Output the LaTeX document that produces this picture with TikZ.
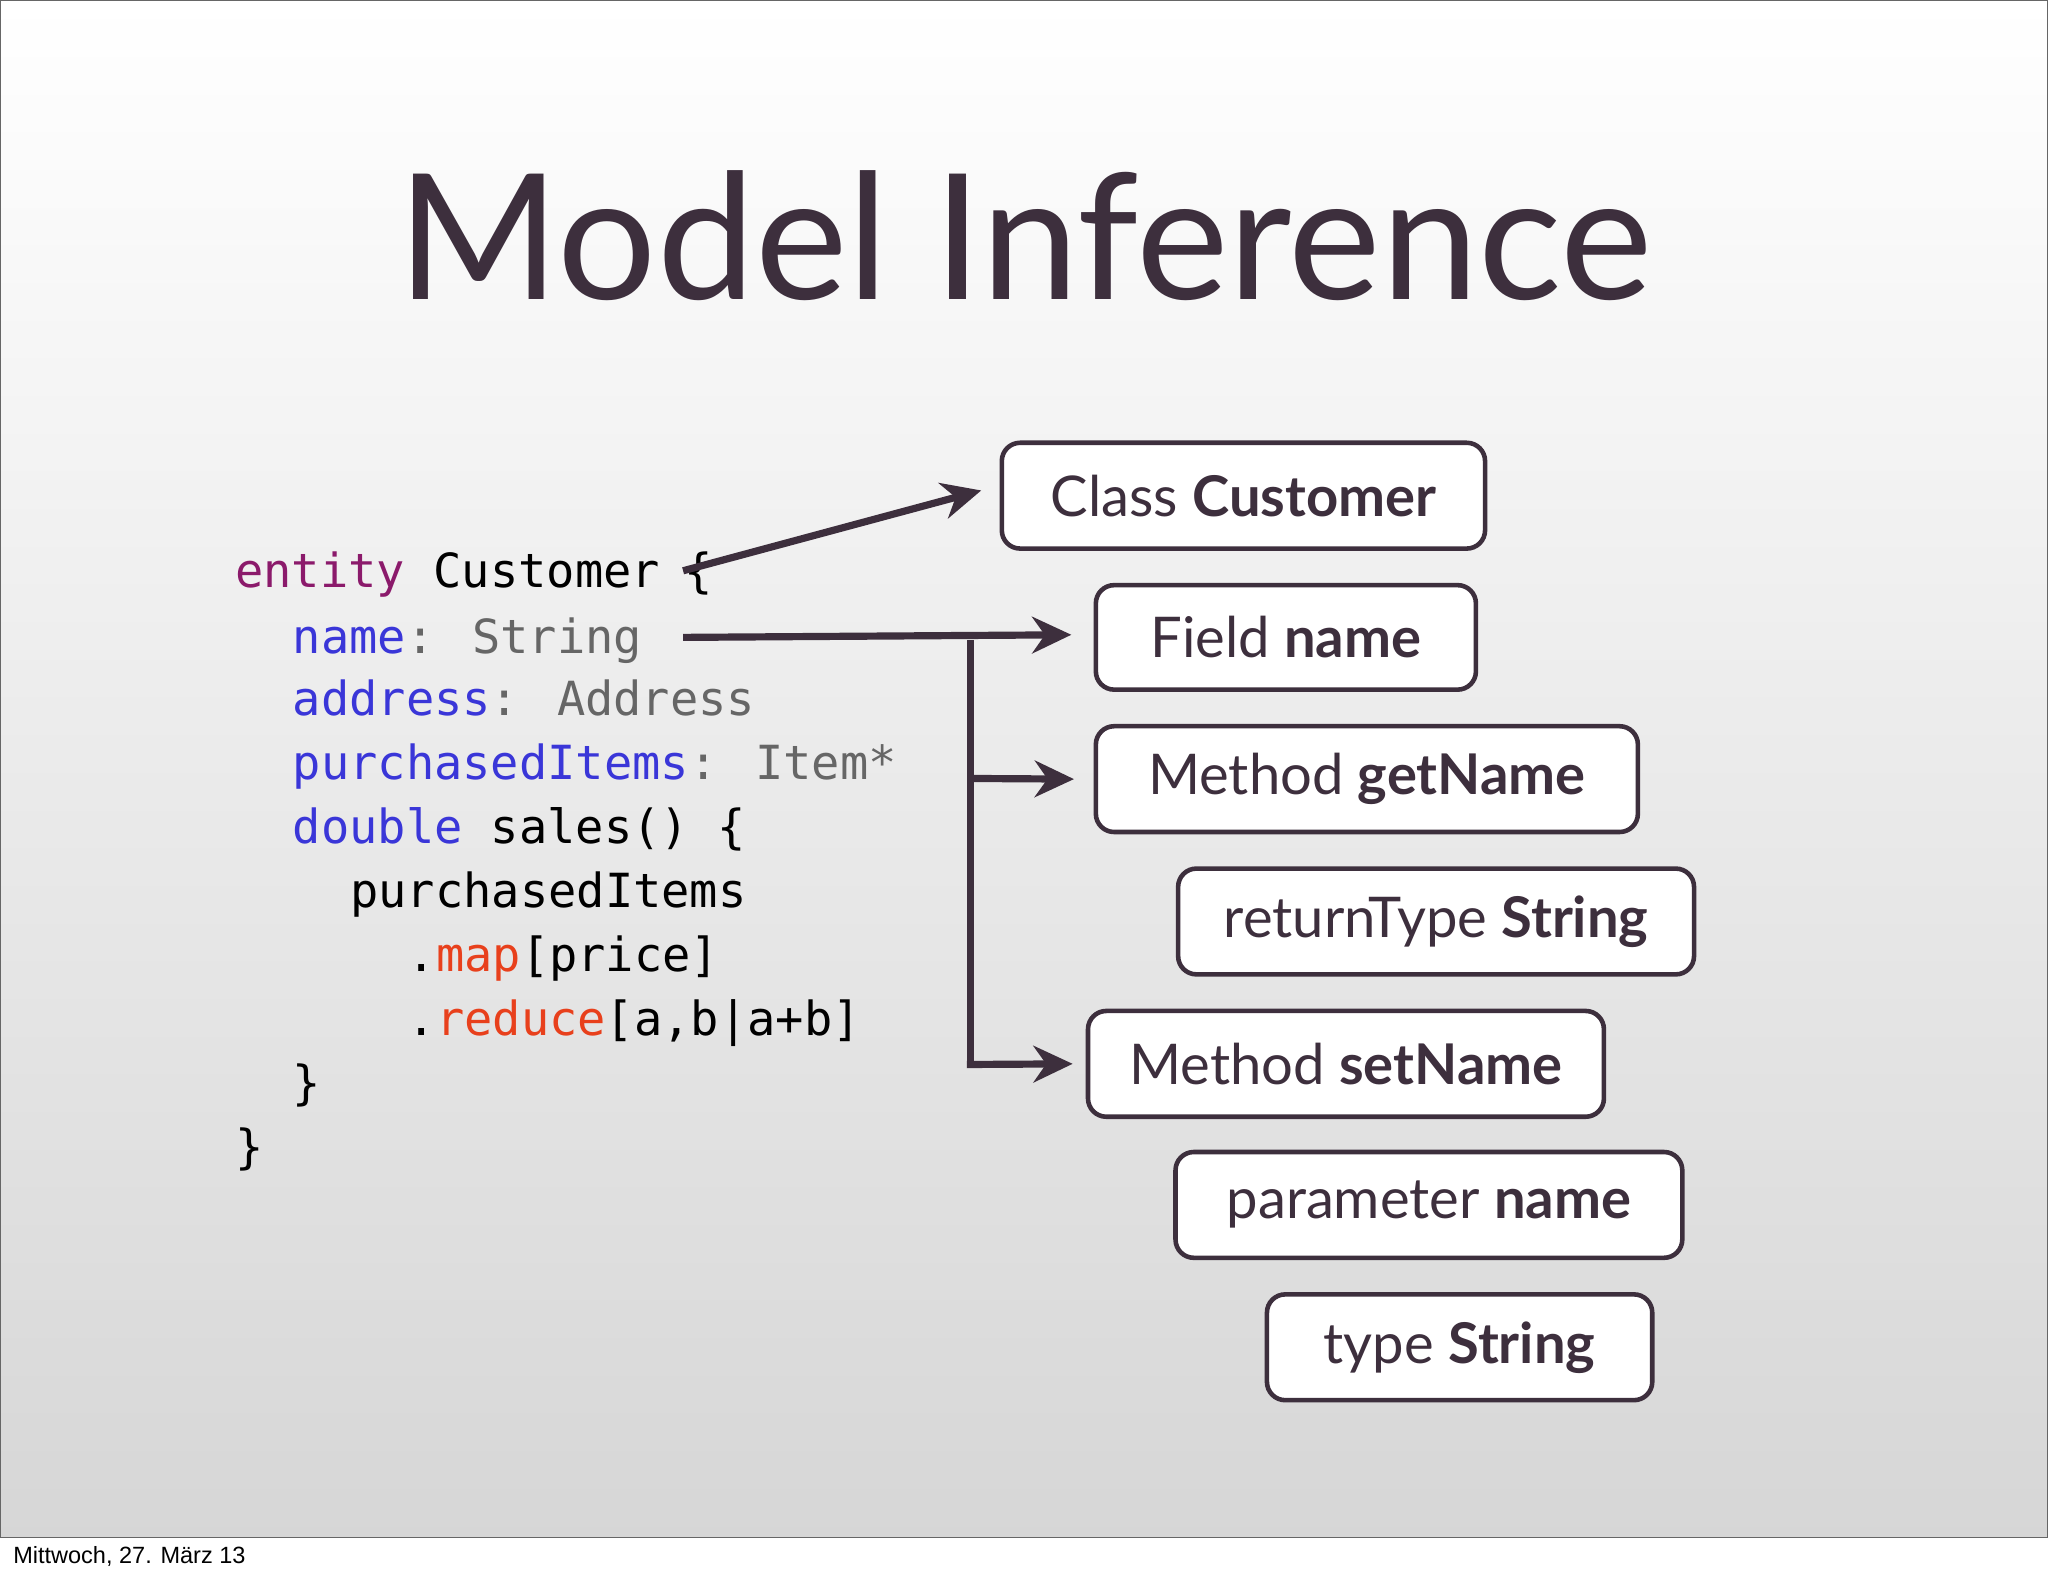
\documentclass[tikz,border=0pt]{standalone}
\usepackage{fontspec}
\setmainfont{Lato}
\newfontfamily\codefont{DejaVu Sans Mono}
\newfontfamily\footfont{Liberation Sans}
\usetikzlibrary{arrows.meta}
\definecolor{ink}{HTML}{3D2F3D}
\definecolor{kw}{HTML}{8B1A6B}
\definecolor{fld}{HTML}{3A36D8}
\definecolor{typ}{HTML}{666666}
\definecolor{ops}{HTML}{E8401C}
\tikzset{
 box/.style={draw=ink,line width=3.5pt,rounded corners=14pt,fill=white,inner sep=0pt,
   font=\fontsize{43}{50}\selectfont,text=ink},
 code/.style={anchor=base west,inner sep=0pt,font=\codefont\fontsize{36}{40}\selectfont},
 conn/.style={draw=ink,line width=5.5pt,-{Stealth[length=30pt,width=28pt]}},
}
\begin{document}
\begin{tikzpicture}[x=1pt,y=-1pt]
\useasboundingbox (0,0) rectangle (1568,1207);
\shade[top color=white,bottom color=black!16] (0,0) rectangle (1568,1177);
\fill[white] (0,1177) rectangle (1568,1207);
\draw[line width=1pt,black!70] (0,1177) -- (1568,1177);
\draw[line width=1pt,black!60] (0.5,0.5) rectangle (1567.5,1177);
\node[anchor=base west,inner sep=0pt,font=\footfont\fontsize{18}{20}\selectfont] (foot) at (10,1197) {Mittwoch, 27. März 13};
\node[anchor=base,inner sep=0pt,text=ink,font=\fontsize{134}{150}\selectfont] (title) at (785,229) {Model Inference};
% code
\node[code] (l1) at (180,450) {{\color{kw}entity} Customer};
\node[code] (l1b) at (524,450) {\{};
\node[code] (l2) at (224,500) {{\color{fld}name}{\color{typ}: String}};
\node[code] (l3) at (224,548) {{\color{fld}address}{\color{typ}: Address}};
\node[code] (l4) at (224,597) {{\color{fld}purchasedItems}{\color{typ}: Item*}};
\node[code] (l5) at (224,646) {{\color{fld}double} sales() \{};
\node[code] (l6) at (268,695) {purchasedItems};
\node[code] (l7) at (312,744) {.{\color{ops}map}[price]};
\node[code] (l8) at (312,793) {.{\color{ops}reduce}[a,b|a+b]};
\node[code] (l9) at (224,842) {\}};
\node[code] (l10) at (180,891) {\}};
% boxes
\node[box,minimum width=370pt,minimum height=81pt] (b1) at (952,379.5) {Class \textbf{Customer}};
\node[box,minimum width=291pt,minimum height=80pt] (b2) at (984.5,488) {Field \textbf{name}};
\node[box,minimum width=415pt,minimum height=81pt] (b3) at (1046.5,596.5) {Method \textbf{getName}};
\node[box,minimum width=395pt,minimum height=81pt] (b4) at (1099.5,705.5) {returnType \textbf{String}};
\node[box,minimum width=395pt,minimum height=81pt] (b5) at (1030.5,814.5) {Method \textbf{setName}};
\node[box,minimum width=388pt,minimum height=81pt] (b6) at (1094,922.5) {parameter \textbf{name}};
\node[box,minimum width=295pt,minimum height=81pt] (b7) at (1117.5,1031.5) {type \textbf{String}};
% connectors
\coordinate (s1) at (523,437);
\coordinate (s2) at (523,488);
\coordinate (j) at (743,490);
\draw[conn] (s1) -- ([xshift=-14pt,yshift=4pt]b1.west);
\draw[conn] (s2) -- ([xshift=-17pt,yshift=2pt]b2.west);
\draw[draw=ink,line width=5.5pt] (j) -- (743,815);
\draw[conn] (743,596) -- ([xshift=-15pt]b3.west);
\draw[conn] (740.25,815) -- ([xshift=-10pt]b5.west);
\end{tikzpicture}
\end{document}
